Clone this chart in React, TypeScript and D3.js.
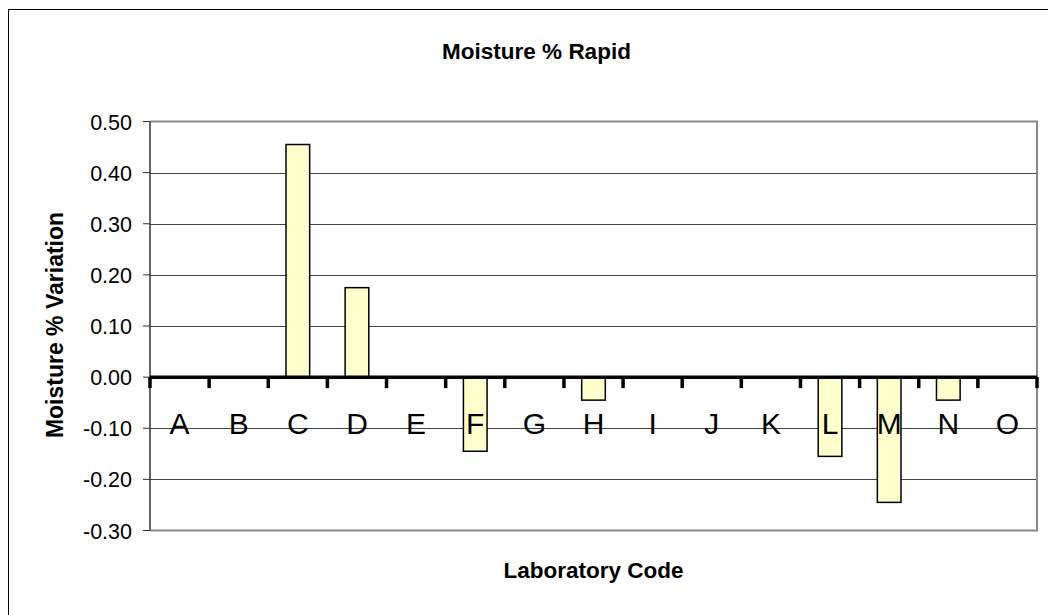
import { useEffect, useRef } from 'react';
import * as d3 from 'd3';

// Lab codes and their moisture variation
const labCodes = ['A', 'B', 'C', 'D', 'E', 'F', 'G', 'H', 'I', 'J', 'K', 'L', 'M', 'N', 'O'];
const variation = [0, 0, 0.455, 0.175, 0, -0.145, 0, -0.045, 0, 0, 0, -0.155, -0.245, -0.045, 0];
const yTicks = [0.5, 0.4, 0.3, 0.2, 0.1, 0, -0.1, -0.2, -0.3];

const W = 1048;
const H = 615;
const FONT = 'Arial, "Liberation Sans", sans-serif';

export default function App() {
  const svgRef = useRef<SVGSVGElement>(null);

  useEffect(() => {
    if (!svgRef.current) return;
    const svg = d3.select(svgRef.current);
    svg.selectAll('*').remove();

    // plot area
    const left = 150, right = 1037, top = 121.5, bottom = 530.5;

    const x = d3.scaleBand<string>()
      .domain(labCodes)
      .range([left, right])
      .paddingInner(0.6)
      .paddingOuter(0.3);

    const y = d3.scaleLinear().domain([-0.3, 0.5]).range([bottom, top]);

    svg.append('rect')
      .attr('width', W).attr('height', H).attr('fill', '#fff');

    // outer chart border (runs past the right/bottom edge)
    svg.append('rect')
      .attr('x', 8.5).attr('y', 9.5)
      .attr('width', 1100).attr('height', 700)
      .attr('fill', 'none').attr('stroke', '#000').attr('stroke-width', 1);

    // inner gridlines
    svg.append('g')
      .selectAll('line')
      .data(yTicks.filter(t => t !== 0.5 && t !== -0.3 && t !== 0))
      .enter().append('line')
      .attr('x1', left).attr('x2', right)
      .attr('y1', d => Math.round(y(d)) + 0.5)
      .attr('y2', d => Math.round(y(d)) + 0.5)
      .attr('stroke', '#444').attr('stroke-width', 1);

    // plot area border (top, right, bottom)
    svg.append('path')
      .attr('d', `M${left},${top}H${right}V${bottom}H${left}`)
      .attr('fill', 'none').attr('stroke', '#8a8a8a').attr('stroke-width', 2);

    // bars
    svg.append('g')
      .selectAll('rect')
      .data(labCodes.map((c, i) => ({ c, v: variation[i] })).filter(d => d.v !== 0))
      .enter().append('rect')
      .attr('x', d => x(d.c) || 0)
      .attr('width', x.bandwidth())
      .attr('y', d => y(Math.max(0, d.v)))
      .attr('height', d => Math.abs(y(d.v) - y(0)))
      .attr('fill', '#ffffcc')
      .attr('stroke', '#000')
      .attr('stroke-width', 1.5);

    // left axis
    svg.append('line')
      .attr('x1', left).attr('x2', left).attr('y1', top).attr('y2', bottom)
      .attr('stroke', '#333').attr('stroke-width', 1.5);

    const yAxis = svg.append('g');
    yAxis.selectAll('line')
      .data(yTicks)
      .enter().append('line')
      .attr('x1', left - 7).attr('x2', left)
      .attr('y1', d => y(d)).attr('y2', d => y(d))
      .attr('stroke', '#333').attr('stroke-width', 1);

    yAxis.selectAll('text')
      .data(yTicks)
      .enter().append('text')
      .attr('x', 132)
      .attr('y', d => y(d) + 8)
      .attr('text-anchor', 'end')
      .style('font-family', FONT)
      .style('font-size', '21.5px')
      .attr('fill', '#000')
      .text(d => d3.format('.2f')(d).replace('\u2212', '-'));

    // zero axis with category boundary ticks
    const step = x.step();
    const bounds = d3.range(labCodes.length + 1).map(i => left + i * step);
    svg.append('line')
      .attr('x1', left).attr('x2', right).attr('y1', y(0)).attr('y2', y(0))
      .attr('stroke', '#000').attr('stroke-width', 3.5);
    svg.append('g')
      .selectAll('line')
      .data(bounds)
      .enter().append('line')
      .attr('x1', d => d).attr('x2', d => d)
      .attr('y1', y(0)).attr('y2', y(0) + 11)
      .attr('stroke', '#000').attr('stroke-width', 3.5);

    // category labels
    svg.append('g')
      .selectAll('text')
      .data(labCodes)
      .enter().append('text')
      .attr('x', d => (x(d) || 0) + x.bandwidth() / 2)
      .attr('y', 434)
      .attr('text-anchor', 'middle')
      .style('font-family', FONT)
      .style('font-size', '30px')
      .attr('fill', '#000')
      .text(d => d);

    // titles
    svg.append('text')
      .attr('x', 536.5).attr('y', 59)
      .attr('text-anchor', 'middle')
      .style('font-family', FONT).style('font-size', '22.5px').style('font-weight', 'bold')
      .text('Moisture % Rapid');

    svg.append('text')
      .attr('x', (left + right) / 2).attr('y', 578)
      .attr('text-anchor', 'middle')
      .style('font-family', FONT).style('font-size', '22.5px').style('font-weight', 'bold')
      .text('Laboratory Code');

    svg.append('text')
      .attr('transform', `translate(63,${325}) rotate(-90)`)
      .attr('text-anchor', 'middle')
      .style('font-family', FONT).style('font-size', '23px').style('font-weight', 'bold')
      .text('Moisture % Variation');
  }, []);

  return (
    <svg
      ref={svgRef}
      width={W}
      height={H}
      style={{ position: 'fixed', left: 0, top: 0, display: 'block' }}
    />
  );
}
